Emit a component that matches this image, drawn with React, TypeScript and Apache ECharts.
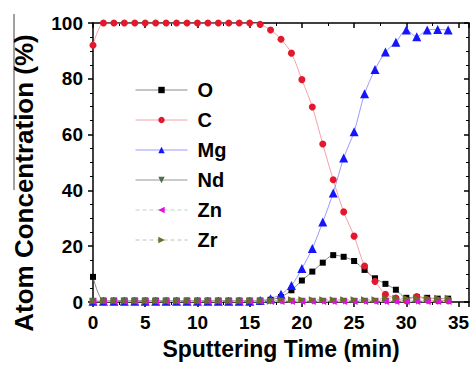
import React, { useEffect, useRef } from "react";
import * as echarts from "echarts";

const time = Array.from({ length: 35 }, (_, i) => i);

const oValues = [9, 0.5, 0.5, 0.5, 0.5, 0.5, 0.5, 0.5, 0.5, 0.5, 0.5, 0.5, 0.5, 0.5, 0.5, 0.5, 0.5, 0.8, 1.8, 4.2, 7.7, 10.9, 14.1, 16.8, 16.2, 14.7, 11.5, 8.5, 6.5, 4.4, 1.5, 1.8, 1.5, 1.2, 1.2];
const cValues = [92, 100, 100, 100, 100, 100, 100, 100, 100, 100, 100, 100, 100, 100, 100, 100, 99.5, 97.5, 94.2, 89.2, 79.7, 69.9, 56.6, 43.8, 32.3, 23.6, 12.9, 7.4, 2.8, 1.4, 0.5, 2, 0.8, 0.5, 0.5];
const mgValues = [0.3, 0.3, 0.3, 0.3, 0.3, 0.3, 0.3, 0.3, 0.3, 0.3, 0.3, 0.3, 0.3, 0.3, 0.3, 0.3, 0.5, 1.2, 2.8, 5.9, 12, 19.2, 28.7, 39.1, 51.6, 61, 74.6, 83.3, 89.6, 93.1, 97.5, 95.1, 97.5, 97.7, 97.5];
const ndValues = [0.3, 0.3, 0.3, 0.3, 0.3, 0.3, 0.3, 0.3, 0.3, 0.3, 0.3, 0.3, 0.3, 0.3, 0.3, 0.3, 0.3, 0.3, 0.3, 0.3, 0.3, 0.3, 0.3, 0.3, 0.3, 0.3, 0.3, 0.3, 0.3, 0.3, 0.3, 0.3, 0.3, 0.3, 0.3];
const znValues = [0.2, 0.2, 0.2, 0.2, 0.2, 0.2, 0.2, 0.2, 0.2, 0.2, 0.2, 0.2, 0.2, 0.2, 0.2, 0.2, 0.2, 0.2, 0.2, 0.2, 0.2, 0.2, 0.2, 0.2, 0.2, 0.2, 0.2, 0.2, 0.2, 0.2, 0.2, 0.2, 0.2, 0.2, 0.2];
const zrValues = [0.3, 0.3, 0.3, 0.3, 0.3, 0.3, 0.3, 0.3, 0.3, 0.3, 0.3, 0.3, 0.3, 0.3, 0.3, 0.3, 0.3, 0.3, 0.8, 0.8, 0.8, 0.8, 0.8, 0.8, 0.8, 0.8, 0.8, 0.8, 1.3, 1.3, 1.3, 1.3, 1.3, 1.3, 1.3];

const xTicks = [0, 5, 10, 15, 20, 25, 30, 35];
const yTicks = [0, 20, 40, 60, 80, 100];
const seriesNames = ["O", "C", "Mg", "Nd", "Zn", "Zr"];

const FONT = "'Liberation Sans', Arial, sans-serif";

function pairs(vals: number[]) {
  return time.map((t, i) => [t, vals[i]]);
}

export default function App() {
  const ref = useRef<HTMLDivElement>(null);
  useEffect(() => {
    if (!ref.current) return;
    const chart = echarts.init(ref.current, undefined, { renderer: "svg" });
    const styles: Record<string, { color: string; line: string; dashed: boolean }> = {
      O: { color: "#000000", line: "#8a8a8a", dashed: false },
      C: { color: "#e3182d", line: "#f4a0a8", dashed: false },
      Mg: { color: "#1414ff", line: "#9a9aff", dashed: false },
      Nd: { color: "#4f6b4f", line: "#909a90", dashed: false },
      Zn: { color: "#e010e0", line: "#b8d8b8", dashed: true },
      Zr: { color: "#6b6b2a", line: "#c0c0b0", dashed: true },
    };
    const mk = (name: string, vals: number[], symbol: string, size: number, rotate: number) => ({
      name,
      type: "line",
      data: pairs(vals),
      symbol,
      symbolSize: size,
      symbolRotate: rotate,
      smooth: 0.3,
      itemStyle: { color: styles[name].color },
      lineStyle: {
        color: styles[name].line,
        width: 1,
        type: styles[name].dashed ? [4, 3] : "solid",
      },
      emphasis: { disabled: true },
    });
    chart.setOption({
      animation: false,
      backgroundColor: "#ffffff",
      grid: { left: 93, right: 4, top: 23, bottom: 61, containLabel: false },
      legend: {
        orient: "vertical",
        left: 130,
        top: 75,
        itemWidth: 52,
        itemHeight: 8,
        itemGap: 10,
        selectedMode: false,
        textStyle: {
          fontFamily: FONT,
          fontWeight: "bold",
          fontSize: 20,
          lineHeight: 20,
          color: "#000",
          padding: [0, 0, 0, 5],
        },
        data: seriesNames.map((n) => ({
          name: n,
          lineStyle: { color: styles[n].line, width: 1, type: styles[n].dashed ? [4, 3] : "solid" },
        })),
      },
      xAxis: [
        {
          type: "value",
          min: 0,
          max: 36,
          interval: 5,
          name: "Sputtering Time (min)",
          nameLocation: "middle",
          nameGap: 35,
          nameTextStyle: { fontFamily: FONT, fontWeight: "bold", fontSize: 23, color: "#000" },
          axisLine: { show: true, onZero: false, lineStyle: { color: "#000", width: 1.5 } },
          axisTick: { show: true, inside: false, length: 5, lineStyle: { color: "#000", width: 1.5 } },
          minorTick: { show: true, splitNumber: 2, length: 3, lineStyle: { color: "#000", width: 1 } },
          splitLine: { show: false },
          axisLabel: {
            margin: 11,
            fontFamily: FONT,
            fontWeight: "bold",
            fontSize: 19,
            color: "#000",
            formatter: (v: number) => (xTicks.includes(v) ? String(v) : ""),
          },
        },
        {
          type: "value",
          position: "top",
          min: 0,
          max: 36,
          interval: 5,
          axisLine: { show: true, onZero: false, lineStyle: { color: "#000", width: 1.5 } },
          axisTick: { show: true, inside: true, length: 5, lineStyle: { color: "#000", width: 1.5 } },
          minorTick: { show: true, splitNumber: 2, length: 3, lineStyle: { color: "#000", width: 1 } },
          splitLine: { show: false },
          axisLabel: { show: false },
        },
      ],
      yAxis: [
        {
          type: "value",
          min: 0,
          max: 100,
          interval: 20,
          axisLine: { show: true, onZero: false, lineStyle: { color: "#000", width: 1.5 } },
          axisTick: { show: true, inside: false, length: 5, lineStyle: { color: "#000", width: 1.5 } },
          minorTick: { show: true, splitNumber: 4, length: 3, lineStyle: { color: "#000", width: 1 } },
          splitLine: { show: false },
          axisLabel: {
            margin: 10,
            fontFamily: FONT,
            fontWeight: "bold",
            fontSize: 19,
            color: "#000",
            formatter: (v: number) => (yTicks.includes(v) ? String(v) : ""),
          },
        },
        {
          type: "value",
          position: "right",
          min: 0,
          max: 100,
          interval: 20,
          axisLine: { show: true, onZero: false, lineStyle: { color: "#000", width: 1.5 } },
          axisTick: { show: true, inside: true, length: 5, lineStyle: { color: "#000", width: 1.5 } },
          minorTick: { show: true, splitNumber: 4, length: 3, lineStyle: { color: "#000", width: 1 } },
          splitLine: { show: false },
          axisLabel: { show: false },
        },
      ],
      graphic: [
        {
          type: "line",
          shape: { x1: 14, y1: 14, x2: 14, y2: 190 },
          style: { stroke: "#444", lineWidth: 1 },
          z: 0,
        },
        {
          type: "text",
          x: 24,
          y: 183,
          rotation: Math.PI / 2,
          style: {
            text: "Atom Concentration (%)",
            fontFamily: FONT,
            fontWeight: "bold",
            fontSize: 26,
            fill: "#000",
            align: "center",
            verticalAlign: "middle",
          },
          z: 10,
        },
      ],
      series: [
        mk("O", oValues, "rect", 6, 0),
        mk("C", cValues, "circle", 7, 0),
        mk("Mg", mgValues, "triangle", 9, 0),
        mk("Nd", ndValues, "triangle", 7, 180),
        mk("Zn", znValues, "triangle", 7, 90),
        mk("Zr", zrValues, "triangle", 7, -90),
      ],
    });
    return () => chart.dispose();
  }, []);
  return (
    <div
      ref={ref}
      style={{ position: "fixed", left: 0, top: 0, width: 473, height: 365, background: "#fff" }}
    />
  );
}
